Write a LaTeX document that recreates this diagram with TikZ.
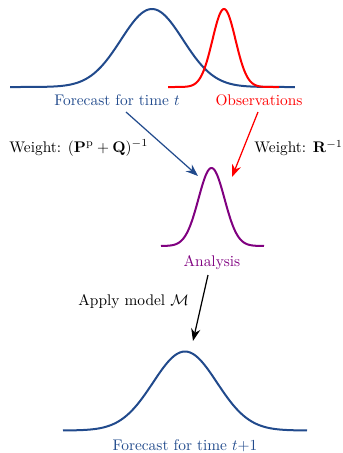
\documentclass[tikz,border=0pt]{standalone}
\usepackage{amsmath}
\usetikzlibrary{arrows.meta}

\definecolor{fcblue}{RGB}{33,74,140}
\definecolor{anapurple}{RGB}{128,0,128}

\begin{document}
\begin{tikzpicture}[x=0.65pt, y=0.65pt,
    curve/.style={line width=1.3pt, smooth, samples=120},
    link/.style={line width=0.8pt, -{Stealth[length=8pt,width=6pt]}}]
    \useasboundingbox (0,0) rectangle (343,-453);

    % densities
    \draw[curve, fcblue, domain=10:295]
        plot (\x, {-87 + 78*exp(-0.5*((\x-152)/31)^2)});
    \draw[curve, red, domain=168:279]
        plot (\x, {-87 + 78*exp(-0.5*((\x-224)/11.5)^2)});
    \draw[curve, anapurple, domain=161:264]
        plot (\x, {-246 + 78*exp(-0.5*((\x-211.5)/13)^2)});
    \draw[curve, fcblue, domain=63:307]
        plot (\x, {-430.5 + 79*exp(-0.5*((\x-185)/32)^2)});

    % labels
    \node[text=fcblue] (fct) at (117,-100) {Forecast for time $t$};
    \node[text=red] (obs) at (259,-100) {Observations};
    \node[text=anapurple] (ana) at (212,-263) {Analysis};
    \node[text=fcblue] (fct1) at (185,-446) {Forecast for time $t{+}1$};

    \node[right] (wf) at (4,-148) {Weight: $(\mathbf{P}^{\mathrm{p}}+\mathbf{Q})^{-1}$};
    \node[right] (wo) at (249,-148) {Weight: $\mathbf{R}^{-1}$};
    \node[right] (am) at (73,-302) {Apply model $\mathcal{M}$};

    % arrow ends
    \coordinate (fs) at (126,-112);
    \coordinate (os) at (258,-112);
    \coordinate (as) at (208,-275);
    \coordinate (af) at (198,-176);
    \coordinate (ao) at (232,-177);
    \coordinate (nf) at (193,-341);

    \draw[link, fcblue] (fs) -- (af);
    \draw[link, red] (os) -- (ao);
    \draw[link, black] (as) -- (nf);
\end{tikzpicture}
\end{document}
